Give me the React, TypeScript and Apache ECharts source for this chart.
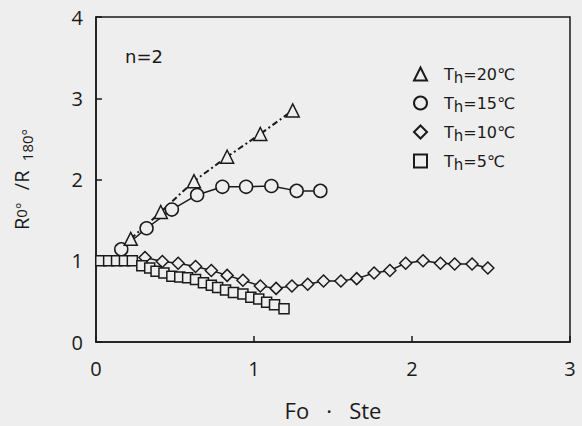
import React, { useEffect, useRef } from "react";
import * as echarts from "echarts";

// Th = 20 °C (triangles, dash-dot line)
const th20X = [0.22, 0.41, 0.62, 0.83, 1.04, 1.245];
const th20Y = [1.27, 1.6, 1.98, 2.28, 2.56, 2.85];
// Th = 15 °C (circles)
const th15X = [0.16, 0.32, 0.48, 0.64, 0.8, 0.95, 1.11, 1.27, 1.42];
const th15Y = [1.14, 1.4, 1.63, 1.81, 1.91, 1.91, 1.92, 1.86, 1.86];
// Th = 10 °C (diamonds)
const th10X = [0.31, 0.42, 0.52, 0.63, 0.73, 0.83, 0.93, 1.04, 1.14, 1.24, 1.34, 1.44, 1.55, 1.65, 1.76, 1.86, 1.96, 2.07, 2.18, 2.27, 2.38, 2.48];
const th10Y = [1.04, 0.99, 0.97, 0.93, 0.88, 0.82, 0.76, 0.69, 0.66, 0.69, 0.71, 0.75, 0.75, 0.78, 0.85, 0.88, 0.97, 1.0, 0.97, 0.96, 0.96, 0.91];
// Th = 5 °C (squares)
const th5X = [0.03, 0.08, 0.13, 0.18, 0.23, 0.29, 0.34, 0.38, 0.43, 0.48, 0.53, 0.58, 0.63, 0.68, 0.73, 0.77, 0.82, 0.87, 0.93, 0.98, 1.03, 1.08, 1.13, 1.19];
const th5Y = [1.0, 1.0, 1.0, 1.0, 1.0, 0.94, 0.91, 0.87, 0.85, 0.81, 0.8, 0.79, 0.77, 0.73, 0.7, 0.67, 0.64, 0.61, 0.59, 0.55, 0.53, 0.49, 0.46, 0.41];

const seriesNames = ["Th=20℃", "Th=15℃", "Th=10℃", "Th=5℃"];
const xAxisTitle = "Fo   ·   Ste";
const annotation = "n=2";

export default function App() {
  const ref = useRef<HTMLDivElement>(null);
  useEffect(() => {
    const chart = echarts.init(ref.current!, null, { renderer: "svg" });
    const bg = "#eeeeee";
    const ink = "#1a1a1a";
    const font = "Open Sans";
    const wide = "DejaVu Sans";
    const zip = (xs: number[], ys: number[]) => xs.map((x, i) => [x, ys[i]]);
    const scatter = (name: string, symbol: string, size: number, xs: number[], ys: number[], z: number) => ({
      type: "scatter",
      name,
      symbol,
      symbolSize: size,
      data: zip(xs, ys),
      itemStyle: { color: bg, borderColor: ink, borderWidth: 1.5, opacity: 1 },
      z,
    });
    const line = (xs: number[], ys: number[], type: any, width: number) => ({
      type: "line",
      data: zip(xs, ys),
      showSymbol: false,
      symbol: "none",
      lineStyle: { color: ink, width, type },
      z: 1,
      silent: true,
    });
    chart.setOption({
      animation: false,
      backgroundColor: bg,
      grid: { left: 96, right: 12, top: 17, bottom: 81, show: true, borderColor: ink, borderWidth: 1.5 },
      xAxis: {
        type: "value",
        min: 0,
        max: 3,
        interval: 1,
        axisLine: { show: true, lineStyle: { color: ink, width: 1.5 } },
        axisTick: { show: true, inside: true, length: 6, lineStyle: { color: ink, width: 1.5 } },
        axisLabel: { fontSize: 20, margin: 16, color: ink, fontFamily: font },
        splitLine: { show: false },
        name: xAxisTitle,
        nameLocation: "middle",
        nameGap: 57,
        nameTextStyle: { fontSize: 22, color: ink, fontFamily: font },
      },
      yAxis: {
        type: "value",
        min: 0,
        max: 4,
        interval: 1,
        axisLine: { show: true, lineStyle: { color: ink, width: 1.5 } },
        axisTick: { show: true, inside: true, length: 6, lineStyle: { color: ink, width: 1.5 } },
        axisLabel: { fontSize: 20, margin: 13, color: ink, fontFamily: font },
        splitLine: { show: false },
        name: "{r|R}{s|0°}    {r|/R}   {t|180°}",
        nameLocation: "middle",
        nameRotate: 90,
        nameGap: 62,
        nameTextStyle: {
          color: ink,
          fontFamily: font,
          rich: {
            r: { fontSize: 20, lineHeight: 26, color: ink, fontFamily: font },
            s: { fontSize: 15, lineHeight: 24, color: ink, fontFamily: font },
            t: { fontSize: 15, lineHeight: 15, verticalAlign: "bottom", color: ink, fontFamily: font },
          },
        },
      },
      legend: {
        orient: "vertical",
        left: 408,
        top: 61,
        itemWidth: 13,
        itemHeight: 13,
        itemGap: 10,
        data: seriesNames,
        formatter: (name: string) => `{a|T}{b|h}{a|${name.slice(2)}}`,
        textStyle: {
          color: ink,
          fontFamily: wide,
          padding: [0, 0, 0, 12],
          rich: {
            a: { fontSize: 16, lineHeight: 22, color: ink, fontFamily: wide },
            b: { fontSize: 15, lineHeight: 10, verticalAlign: "bottom", color: ink, fontFamily: wide },
          },
        },
      },
      graphic: [
        {
          type: "text",
          left: 125,
          top: 47,
          style: { text: annotation, fontSize: 18, fill: ink, fontFamily: wide },
        },
      ],
      series: [
        line(th20X, th20Y, [6, 3, 2, 3], 2),
        line(th15X, th15Y, "solid", 1.5),
        line(th10X, th10Y, "solid", 1.5),
        scatter(seriesNames[0], "triangle", 13, th20X, th20Y, 4),
        scatter(seriesNames[1], "circle", 13, th15X, th15Y, 3),
        scatter(seriesNames[2], "diamond", 12, th10X, th10Y, 2),
        scatter(seriesNames[3], "rect", 10, th5X, th5Y, 5),
      ],
    });
    return () => chart.dispose();
  }, []);
  return <div ref={ref} style={{ position: "fixed", left: 0, top: 0, width: 582, height: 426 }} />;
}
